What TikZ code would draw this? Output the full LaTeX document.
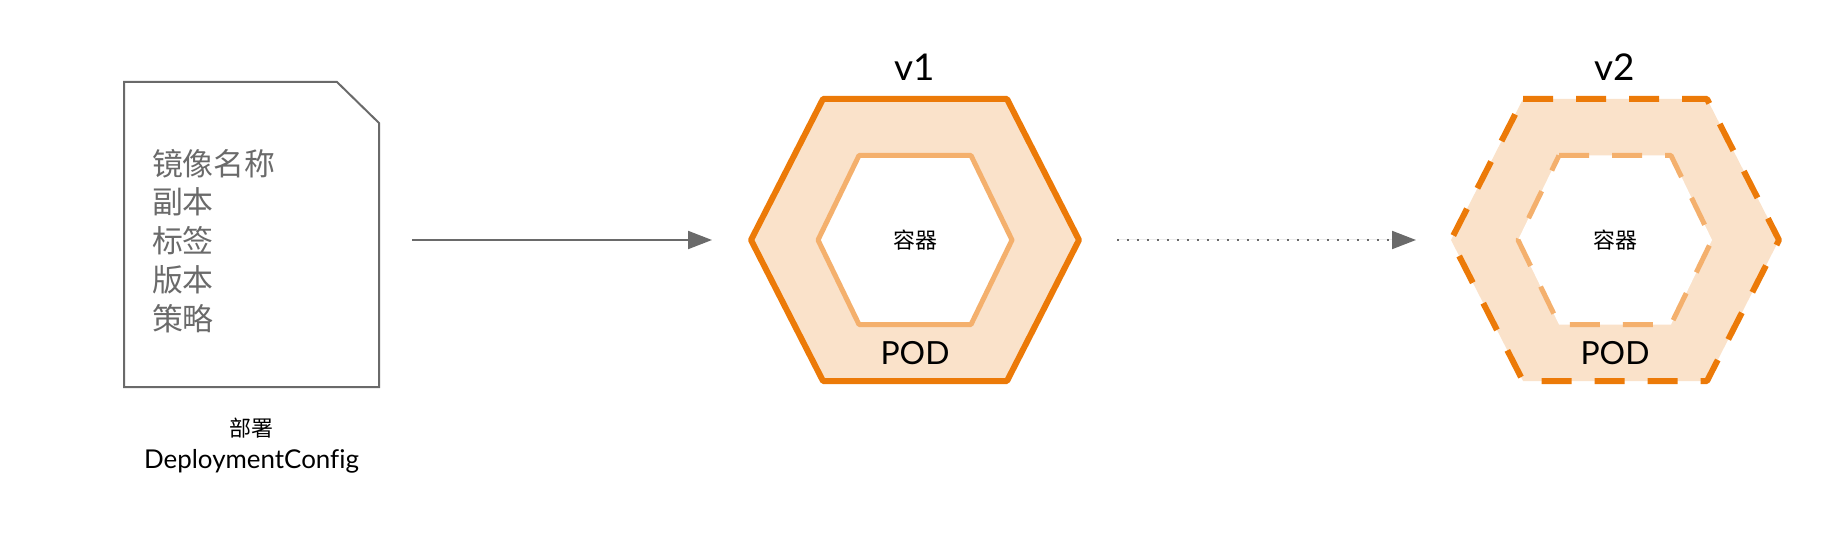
\documentclass[tikz,border=0pt]{standalone}
\usepackage{fontspec}
\setmainfont{Lato}[Ligatures=NoCommon]
\newfontfamily\cjk{Noto Sans CJK SC}
\usepackage{tikz}
\usetikzlibrary{positioning,arrows.meta}

\definecolor{podorange}{HTML}{EC7A08}
\definecolor{podfill}{HTML}{FAE2CA}
\definecolor{ctrline}{HTML}{F4B06D}
\definecolor{docgray}{HTML}{6A6A6A}

\begin{document}
\begin{tikzpicture}[x=1bp,y=-1bp,>={Triangle[length=24bp,width=18bp]},
                    every node/.style={inner sep=0pt,outer sep=0pt}]
  \tikzset{docbox/.style={minimum width=255bp,minimum height=305bp},
           podbox/.style={minimum width=328bp,minimum height=282bp},
           ctrbox/.style={minimum width=194bp,minimum height=169bp},
           podline/.style={draw=podorange,fill=podfill,line width=6bp,line join=round},
           ctrlinestyle/.style={draw=ctrline,fill=white,line width=5bp,line join=round},
           newver/.style={dash pattern=on 30bp off 23bp},
           flowarrow/.style={->,draw=docgray,fill=docgray,line width=2bp},
           vlabel/.style={font=\fontsize{37}{40}\selectfont},
           podlabel/.style={font=\fontsize{32}{36}\selectfont},
           ctrlabel/.style={font=\cjk\fontsize{22}{26}\selectfont}}

  \useasboundingbox (0,0) rectangle (1836,546);

  % geometry
  \node[docbox] (doc)  at (251.5,234.5) {};
  \node[podbox] (pod1) at (915,240)  {};
  \node[podbox] (pod2) at (1615,240) {};
  \node[ctrbox] (ctr1) at (pod1)     {};
  \node[ctrbox] (ctr2) at (pod2)     {};

  % deployment config
  \draw[docgray,line width=2bp] (doc.north west) -- ([xshift=-42bp]doc.north east)
       -- ([yshift=-41bp]doc.north east) -- (doc.south east) -- (doc.south west) -- cycle;
  \node[anchor=north west,align=left,text=docgray,font=\cjk\fontsize{31}{39}\selectfont]
       (spec) at ([xshift=28bp,yshift=-67bp]doc.north west)
       {镜像名称\\副本\\标签\\版本\\策略};
  \node[below=31bp of doc,align=center,font=\fontsize{26}{32}\selectfont] (doclabel)
       {{\cjk\fontsize{22}{26}\selectfont 部署}\\DeploymentConfig};

  % v1
  \draw[podline] ([xshift=-92bp]pod1.north) -- ([xshift=92bp]pod1.north) -- (pod1.east)
       -- ([xshift=92bp]pod1.south) -- ([xshift=-92bp]pod1.south) -- (pod1.west) -- cycle;
  \draw[ctrlinestyle] ([xshift=-56bp]ctr1.north) -- ([xshift=56bp]ctr1.north) -- (ctr1.east)
       -- ([xshift=56bp]ctr1.south) -- ([xshift=-56bp]ctr1.south) -- (ctr1.west) -- cycle;
  \node[ctrlabel] (ctrtext1) at (ctr1) {容器};
  \node[podlabel,above=16bp of pod1.south] (podtext1) {POD};
  \node[vlabel,above=18bp of pod1.north] (ver1) {v1};

  % v2
  \draw[podline,newver] ([xshift=-92bp]pod2.north) -- ([xshift=92bp]pod2.north) -- (pod2.east)
       -- ([xshift=92bp]pod2.south) -- ([xshift=-92bp]pod2.south) -- (pod2.west) -- cycle;
  \draw[ctrlinestyle,newver] ([xshift=-56bp]ctr2.north) -- ([xshift=56bp]ctr2.north) -- (ctr2.east)
       -- ([xshift=56bp]ctr2.south) -- ([xshift=-56bp]ctr2.south) -- (ctr2.west) -- cycle;
  \node[ctrlabel] (ctrtext2) at (ctr2) {容器};
  \node[podlabel,above=16bp of pod2.south] (podtext2) {POD};
  \node[vlabel,above=18bp of pod2.north] (ver2) {v2};

  % arrows
  \draw[flowarrow,shorten <=33bp,shorten >=39bp] (doc.east |- pod1.west) -- (pod1.west);
  \draw[flowarrow,dash pattern=on 2bp off 8bp,shorten <=38bp,shorten >=35bp] (pod1.east) -- (pod2.west);
\end{tikzpicture}
\end{document}
